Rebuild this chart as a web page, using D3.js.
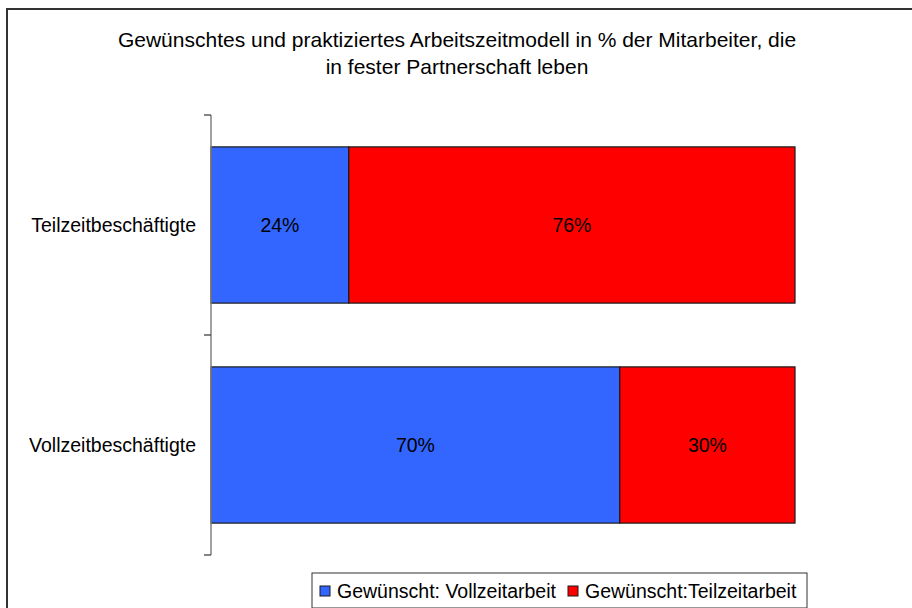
<!DOCTYPE html>
<html>
<head>
<meta charset="utf-8">
<script src="https://cdn.jsdelivr.net/npm/d3@7"></script>
<style>
  body { margin: 0; background: #fff; }
  text { font-family: Arial, "Liberation Sans", sans-serif; fill: #000; }
</style>
</head>
<body>
<div id="chart"></div>
<script>
const categories = ["Teilzeitbeschäftigte", "Vollzeitbeschäftigte"];
const seriesNames = ["Gewünscht: Vollzeitarbeit", "Gewünscht:Teilzeitarbeit"];
const vollzeit = [23.6, 70];
const teilzeit = [76.4, 30];
const titleLines = [
    "Gewünschtes und praktiziertes Arbeitszeitmodell in % der Mitarbeiter, die",
    "in fester Partnerschaft leben"
];
const colors = ["#3366FF", "#FF0000"];

const width = 912, height = 608;

const svg = d3.select("#chart")
    .append("svg")
    .attr("width", width)
    .attr("height", height);

// frame (right and bottom edges run off the picture)
svg.append("rect")
    .attr("x", 7)
    .attr("y", 9)
    .attr("width", 920)
    .attr("height", 620)
    .attr("fill", "#fff")
    .attr("stroke", "#333")
    .attr("stroke-width", 2);

// title
svg.append("g")
    .selectAll("text")
    .data(titleLines)
    .join("text")
    .attr("x", 457)
    .attr("y", (d, i) => 47 + i * 26.5)
    .attr("text-anchor", "middle")
    .attr("font-size", 21)
    .text(d => d);

const x = d3.scaleLinear()
    .domain([0, 100])
    .range([211, 795]);

const y = d3.scaleBand()
    .domain(categories)
    .range([115, 555])
    .paddingInner(0.29)
    .paddingOuter(0.145);

const rows = categories.map((c, i) => ({ cat: c, values: [vollzeit[i], teilzeit[i]] }));
const stack = d3.stack().keys([0, 1]).value((d, k) => d.values[k]);
const stacked = stack(rows);

const layers = svg.append("g")
    .selectAll("g")
    .data(stacked)
    .join("g")
    .attr("fill", (d, i) => colors[i]);

layers.selectAll("rect")
    .data(d => d)
    .join("rect")
    .attr("x", d => x(d[0]))
    .attr("y", d => y(d.data.cat))
    .attr("width", d => x(d[1]) - x(d[0]))
    .attr("height", y.bandwidth())
    .attr("stroke", "#1a1a1a")
    .attr("stroke-width", 1.2);

layers.selectAll("text")
    .data(d => d)
    .join("text")
    .attr("x", d => (x(d[0]) + x(d[1])) / 2)
    .attr("y", d => y(d.data.cat) + y.bandwidth() / 2)
    .attr("dy", "0.35em")
    .attr("text-anchor", "middle")
    .attr("font-size", 19.5)
    .text(d => d3.format(".0f")(d[1] - d[0]) + "%");

// category axis
const yAxis = svg.append("g");
yAxis.append("line")
    .attr("x1", 211).attr("x2", 211)
    .attr("y1", y.range()[0]).attr("y2", y.range()[1])
    .attr("stroke", "#808080")
    .attr("stroke-width", 1.5);

const tickYs = [y.range()[0], ...categories.slice(1).map(c => y(c) - y.step() * y.paddingInner() / 2), y.range()[1]];
yAxis.selectAll(".tick")
    .data(tickYs)
    .join("line")
    .attr("class", "tick")
    .attr("x1", 204).attr("x2", 211)
    .attr("y1", d => d).attr("y2", d => d)
    .attr("stroke", "#333")
    .attr("stroke-width", 1.2);

yAxis.selectAll(".label")
    .data(categories)
    .join("text")
    .attr("class", "label")
    .attr("x", 196)
    .attr("y", d => y(d) + y.bandwidth() / 2)
    .attr("dy", "0.35em")
    .attr("text-anchor", "end")
    .attr("font-size", 19.5)
    .text(d => d);

// legend
const legend = svg.append("g");
legend.append("rect")
    .attr("x", 312)
    .attr("y", 573)
    .attr("width", 495)
    .attr("height", 35)
    .attr("fill", "#fff")
    .attr("stroke", "#333")
    .attr("stroke-width", 1);

const legendX = [320, 568];
const items = legend.selectAll(".item")
    .data(seriesNames)
    .join("g")
    .attr("class", "item")
    .attr("transform", (d, i) => `translate(${legendX[i]}, 591)`);

items.append("rect")
    .attr("x", 0)
    .attr("y", -5)
    .attr("width", 10)
    .attr("height", 10)
    .attr("fill", (d, i) => colors[i])
    .attr("stroke", "#1a1a1a")
    .attr("stroke-width", 1);

items.append("text")
    .attr("x", 17)
    .attr("dy", "0.35em")
    .attr("font-size", 19.5)
    .text(d => d);
</script>
</body>
</html>
